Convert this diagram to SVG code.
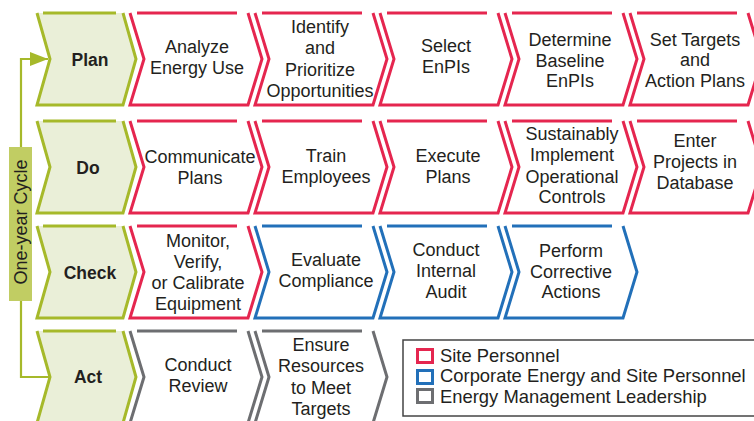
<svg xmlns="http://www.w3.org/2000/svg" xmlns:xlink="http://www.w3.org/1999/xlink" width="754" height="421" viewBox="0 0 754 421">
<style>
  text { font-family: "Liberation Sans", Arial, sans-serif; fill: #231f20; }
  .t { font-size: 18px; text-anchor: middle; }
  .lbl { font-size: 17.5px; font-weight: bold; text-anchor: middle; }
  .leg { font-size: 18.4px; }
  .chev { fill: none; stroke-width: 3; stroke-linejoin: miter; }
  .red { stroke: #e5264f; }
  .blue { stroke: #2270b9; }
  .gray { stroke: #6d6e71; }
  .conn { fill: none; stroke: #a6b92a; stroke-width: 2.2; }
</style>
<defs>
  <path id="chev" d="M0,0 L14,46 L0,92 L118,92 L132,46 L118,0 M7,0 H107"/>
  <path id="gchevfill" d="M0,0 L13,46 L0,92 L86,92 L99,46 L86,0 Z"/>
  <path id="gchev" d="M0,0 L13,46 L0,92 L86,92 L99,46 L86,0 M6,0 H79"/>
  <marker id="arr" markerUnits="userSpaceOnUse" markerWidth="19" markerHeight="15" refX="18" refY="7" orient="auto">
    <path d="M0,0 L18,7 L0,14 Z" fill="#a6b92a"/>
  </marker>
</defs>
<rect width="754" height="421" fill="#ffffff"/>

<g id="connectors">
  <path class="conn" d="M21,148 V59 H48" marker-end="url(#arr)"/>
  <path class="conn" d="M21,300 V377 H49"/>
</g>

<g id="cycle-label">
  <rect x="9" y="147" width="23" height="154" fill="#c1cd63"/>
  <text transform="translate(27,222) rotate(-90)" text-anchor="middle" font-size="18">One-year Cycle</text>
</g>

<!-- Plan row -->
<g id="plan">
  <use xlink:href="#gchevfill" x="37" y="13" fill="#eaefd8"/>
  <use xlink:href="#gchev" x="37" y="13" fill="none" stroke="#a6b92a" stroke-width="3"/>
  <text class="lbl" x="90" y="66">Plan</text>
</g>
<g id="analyze">
  <use xlink:href="#chev" x="130" y="13" class="chev red"/>
  <text class="t"><tspan x="197" y="53">Analyze</tspan><tspan x="197" y="74">Energy Use</tspan></text>
</g>
<g id="identify">
  <use xlink:href="#chev" x="255" y="13" class="chev red"/>
  <text class="t"><tspan x="320" y="33">Identify</tspan><tspan x="320" y="54">and</tspan><tspan x="320" y="76">Prioritize</tspan><tspan x="320" y="97">Opportunities</tspan></text>
</g>
<g id="select">
  <use xlink:href="#chev" x="380" y="13" class="chev red"/>
  <text class="t"><tspan x="446" y="52">Select</tspan><tspan x="446" y="73">EnPIs</tspan></text>
</g>
<g id="determine">
  <use xlink:href="#chev" x="505" y="13" class="chev red"/>
  <text class="t"><tspan x="570" y="46">Determine</tspan><tspan x="570" y="67">Baseline</tspan><tspan x="570" y="87">EnPIs</tspan></text>
</g>
<g id="settargets">
  <use xlink:href="#chev" x="630" y="13" class="chev red"/>
  <text class="t"><tspan x="695" y="46">Set Targets</tspan><tspan x="695" y="66">and</tspan><tspan x="695" y="87">Action Plans</tspan></text>
</g>

<!-- Do row -->
<g id="do">
  <use xlink:href="#gchevfill" x="37" y="121" fill="#eaefd8"/>
  <use xlink:href="#gchev" x="37" y="121" fill="none" stroke="#a6b92a" stroke-width="3"/>
  <text class="lbl" x="88" y="174">Do</text>
</g>
<g id="communicate">
  <use xlink:href="#chev" x="130" y="121" class="chev red"/>
  <text class="t"><tspan x="200" y="163">Communicate</tspan><tspan x="200" y="184">Plans</tspan></text>
</g>
<g id="train">
  <use xlink:href="#chev" x="255" y="121" class="chev red"/>
  <text class="t"><tspan x="326" y="162">Train</tspan><tspan x="326" y="183">Employees</tspan></text>
</g>
<g id="execute">
  <use xlink:href="#chev" x="380" y="121" class="chev red"/>
  <text class="t"><tspan x="448" y="162">Execute</tspan><tspan x="448" y="183">Plans</tspan></text>
</g>
<g id="sustainably">
  <use xlink:href="#chev" x="505" y="121" class="chev red"/>
  <text class="t"><tspan x="572" y="140">Sustainably</tspan><tspan x="572" y="161">Implement</tspan><tspan x="572" y="183">Operational</tspan><tspan x="572" y="203">Controls</tspan></text>
</g>
<g id="enter">
  <use xlink:href="#chev" x="630" y="121" class="chev red"/>
  <text class="t"><tspan x="695" y="147">Enter</tspan><tspan x="695" y="168">Projects in</tspan><tspan x="695" y="189">Database</tspan></text>
</g>

<!-- Check row -->
<g id="check">
  <use xlink:href="#gchevfill" x="37" y="226" fill="#eaefd8"/>
  <use xlink:href="#gchev" x="37" y="226" fill="none" stroke="#a6b92a" stroke-width="3"/>
  <text class="lbl" x="90" y="279">Check</text>
</g>
<g id="monitor">
  <use xlink:href="#chev" x="130" y="226" class="chev red"/>
  <text class="t"><tspan x="198" y="247">Monitor,</tspan><tspan x="198" y="268">Verify,</tspan><tspan x="198" y="289">or Calibrate</tspan><tspan x="198" y="310">Equipment</tspan></text>
</g>
<g id="evaluate">
  <use xlink:href="#chev" x="255" y="226" class="chev blue"/>
  <text class="t"><tspan x="326" y="266">Evaluate</tspan><tspan x="326" y="287">Compliance</tspan></text>
</g>
<g id="audit">
  <use xlink:href="#chev" x="380" y="226" class="chev blue"/>
  <text class="t"><tspan x="446" y="256">Conduct</tspan><tspan x="446" y="277">Internal</tspan><tspan x="446" y="298">Audit</tspan></text>
</g>
<g id="perform">
  <use xlink:href="#chev" x="505" y="226" class="chev blue"/>
  <text class="t"><tspan x="571" y="257">Perform</tspan><tspan x="571" y="278">Corrective</tspan><tspan x="571" y="298">Actions</tspan></text>
</g>

<!-- Act row -->
<g id="act">
  <use xlink:href="#gchevfill" x="37" y="331" fill="#eaefd8"/>
  <use xlink:href="#gchev" x="37" y="331" fill="none" stroke="#a6b92a" stroke-width="3"/>
  <text class="lbl" x="88" y="383">Act</text>
</g>
<g id="review">
  <use xlink:href="#chev" x="130" y="331" class="chev gray"/>
  <text class="t"><tspan x="198" y="371">Conduct</tspan><tspan x="198" y="392">Review</tspan></text>
</g>
<g id="ensure">
  <use xlink:href="#chev" x="255" y="331" class="chev gray"/>
  <text class="t"><tspan x="321" y="351">Ensure</tspan><tspan x="321" y="372">Resources</tspan><tspan x="321" y="394">to Meet</tspan><tspan x="321" y="415">Targets</tspan></text>
</g>

<!-- Legend -->
<g id="legend">
  <rect x="403" y="340" width="360" height="76" fill="#ffffff" stroke="#444444" stroke-width="1.5"/>
  <rect x="417.5" y="349.5" width="15" height="13" fill="none" stroke="#e5264f" stroke-width="3"/>
  <rect x="417.5" y="370.5" width="15" height="13" fill="none" stroke="#2270b9" stroke-width="3"/>
  <rect x="417.5" y="389.5" width="15" height="13" fill="none" stroke="#6d6e71" stroke-width="3"/>
  <text class="leg" x="440" y="362">Site Personnel</text>
  <text class="leg" x="440" y="382">Corporate Energy and Site Personnel</text>
  <text class="leg" x="440" y="403">Energy Management Leadership</text>
</g>
</svg>
